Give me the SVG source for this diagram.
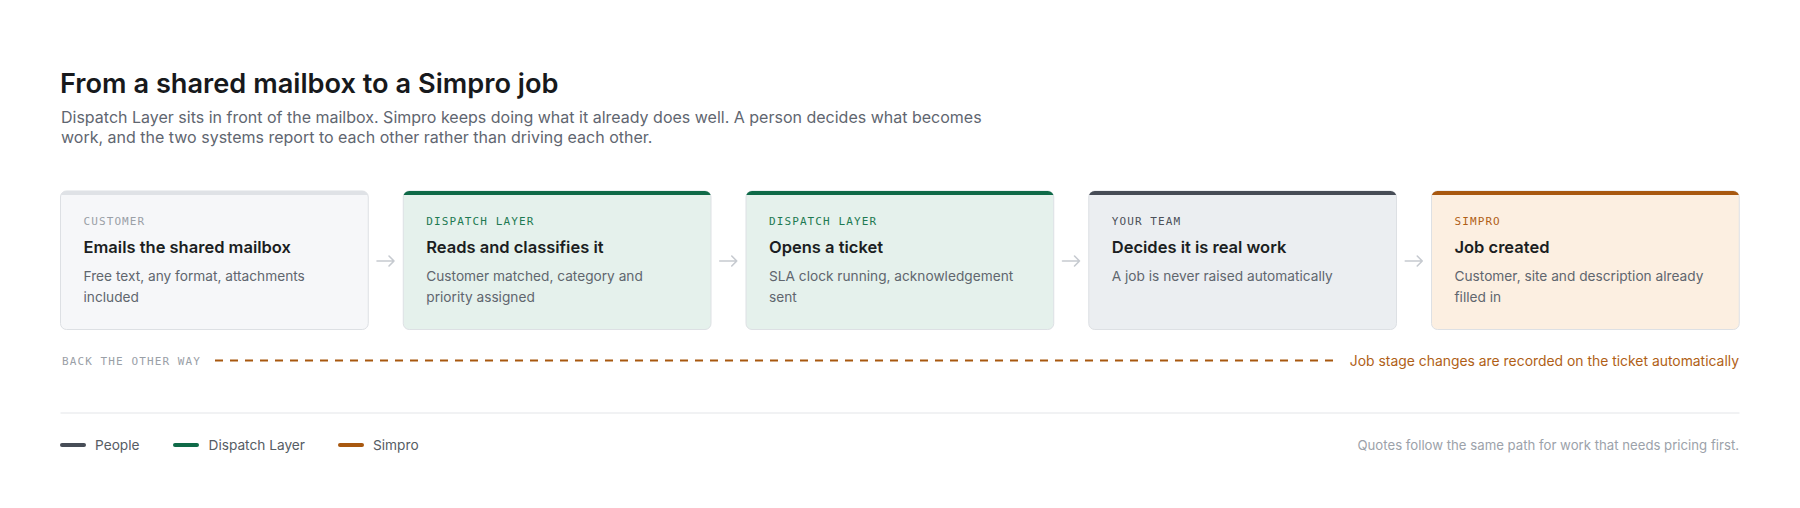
<svg xmlns="http://www.w3.org/2000/svg" width="1800" height="508" viewBox="0 0 1800 508">
<style>
.sans{font-family:Inter,"Noto Sans",sans-serif}
.h1{font-size:27.2px;font-weight:600;fill:#17191c}
.sub{font-size:16px;fill:#5f6670}
.card{stroke:#dde0e4;stroke-width:1}
.lbl{font-family:"DejaVu Sans Mono",monospace;font-size:11px;letter-spacing:1.1px}
.ttl{font-size:16.5px;font-weight:600;fill:#1b1e22}
.desc{font-size:13.7px;fill:#60666e}
.arrow{fill:none;stroke:#c6cad0;stroke-width:1.6;stroke-linecap:round;stroke-linejoin:round}
.leg{font-size:13.7px;fill:#565c64}
</style>
<defs>
<clipPath id="c1"><rect x="60.5" y="191" width="307.75" height="138.5" rx="6"/></clipPath>
<clipPath id="c2"><rect x="403.25" y="191" width="307.75" height="138.5" rx="6"/></clipPath>
<clipPath id="c3"><rect x="746" y="191" width="307.75" height="138.5" rx="6"/></clipPath>
<clipPath id="c4"><rect x="1088.75" y="191" width="307.75" height="138.5" rx="6"/></clipPath>
<clipPath id="c5"><rect x="1431.5" y="191" width="307.75" height="138.5" rx="6"/></clipPath>
</defs>
<rect width="1800" height="508" fill="#ffffff"/>

<g id="header" class="sans">
<text class="h1" x="60" y="93">From a shared mailbox to a Simpro job</text>
<text class="sub" x="61" y="123">Dispatch Layer sits in front of the mailbox. Simpro keeps doing what it already does well. A person decides what becomes</text>
<text class="sub" x="61" y="143">work, and the two systems report to each other rather than driving each other.</text>
</g>

<g id="node-customer" class="sans">
<rect class="card" x="60.5" y="191" width="307.75" height="138.5" rx="6" fill="#f6f7f9"/>
<rect x="60.5" y="191" width="307.75" height="4" fill="#dfe2e6" clip-path="url(#c1)"/>
<text class="lbl" x="83.5" y="225" fill="#9aa0a7">CUSTOMER</text>
<text class="ttl" x="83.5" y="252.5">Emails the shared mailbox</text>
<text class="desc" x="83.5" y="281">Free text, any format, attachments</text>
<text class="desc" x="83.5" y="301.5">included</text>
</g>

<g id="node-reads" class="sans">
<rect class="card" x="403.25" y="191" width="307.75" height="138.5" rx="6" fill="#e5f1ec"/>
<rect x="403.25" y="191" width="307.75" height="4" fill="#0f6a48" clip-path="url(#c2)"/>
<text class="lbl" x="426.25" y="225" fill="#1d7a52">DISPATCH LAYER</text>
<text class="ttl" x="426.25" y="252.5">Reads and classifies it</text>
<text class="desc" x="426.25" y="281">Customer matched, category and</text>
<text class="desc" x="426.25" y="301.5">priority assigned</text>
</g>

<g id="node-ticket" class="sans">
<rect class="card" x="746" y="191" width="307.75" height="138.5" rx="6" fill="#e5f1ec"/>
<rect x="746" y="191" width="307.75" height="4" fill="#0f6a48" clip-path="url(#c3)"/>
<text class="lbl" x="769" y="225" fill="#1d7a52">DISPATCH LAYER</text>
<text class="ttl" x="769" y="252.5">Opens a ticket</text>
<text class="desc" x="769" y="281">SLA clock running, acknowledgement</text>
<text class="desc" x="769" y="301.5">sent</text>
</g>

<g id="node-team" class="sans">
<rect class="card" x="1088.75" y="191" width="307.75" height="138.5" rx="6" fill="#ebeef1"/>
<rect x="1088.75" y="191" width="307.75" height="4" fill="#464c56" clip-path="url(#c4)"/>
<text class="lbl" x="1111.75" y="225" fill="#4b5059">YOUR TEAM</text>
<text class="ttl" x="1111.75" y="252.5">Decides it is real work</text>
<text class="desc" x="1111.75" y="281">A job is never raised automatically</text>
</g>

<g id="node-simpro" class="sans">
<rect class="card" x="1431.5" y="191" width="307.75" height="138.5" rx="6" fill="#fcefe1"/>
<rect x="1431.5" y="191" width="307.75" height="4" fill="#a8580f" clip-path="url(#c5)"/>
<text class="lbl" x="1454.5" y="225" fill="#b05f17">SIMPRO</text>
<text class="ttl" x="1454.5" y="252.5">Job created</text>
<text class="desc" x="1454.5" y="281">Customer, site and description already</text>
<text class="desc" x="1454.5" y="301.5">filled in</text>
</g>

<g id="connectors">
<path class="arrow" d="M377 261H394M389 256L394 261L389 266"/>
<path class="arrow" d="M719.75 261H736.75M731.75 256L736.75 261L731.75 266"/>
<path class="arrow" d="M1062.5 261H1079.5M1074.5 256L1079.5 261L1074.5 266"/>
<path class="arrow" d="M1405.25 261H1422.25M1417.25 256L1422.25 261L1417.25 266"/>
<text class="lbl" x="62" y="364.5" fill="#9aa0a7">BACK THE OTHER WAY</text>
<line x1="215" y1="360.5" x2="1334" y2="360.5" stroke="#a8580f" stroke-width="2" stroke-dasharray="8 7"/>
<text class="sans" x="1739" y="365.5" text-anchor="end" font-size="13.9" fill="#b05f17">Job stage changes are recorded on the ticket automatically</text>
</g>

<line x1="60.5" y1="413" x2="1739.5" y2="413" stroke="#e3e5e8" stroke-width="1"/>

<g id="legend" class="sans">
<line x1="62" y1="445" x2="84" y2="445" stroke="#474d57" stroke-width="4" stroke-linecap="round"/>
<text class="leg" x="95" y="450">People</text>
<line x1="175" y1="445" x2="197" y2="445" stroke="#0f6a48" stroke-width="4" stroke-linecap="round"/>
<text class="leg" x="208.5" y="450">Dispatch Layer</text>
<line x1="340" y1="445" x2="362" y2="445" stroke="#a8580f" stroke-width="4" stroke-linecap="round"/>
<text class="leg" x="373" y="450">Simpro</text>
<text x="1739" y="449.5" text-anchor="end" font-size="13.2" fill="#9ca2aa" font-family="Inter,'Noto Sans',sans-serif">Quotes follow the same path for work that needs pricing first.</text>
</g>
</svg>
